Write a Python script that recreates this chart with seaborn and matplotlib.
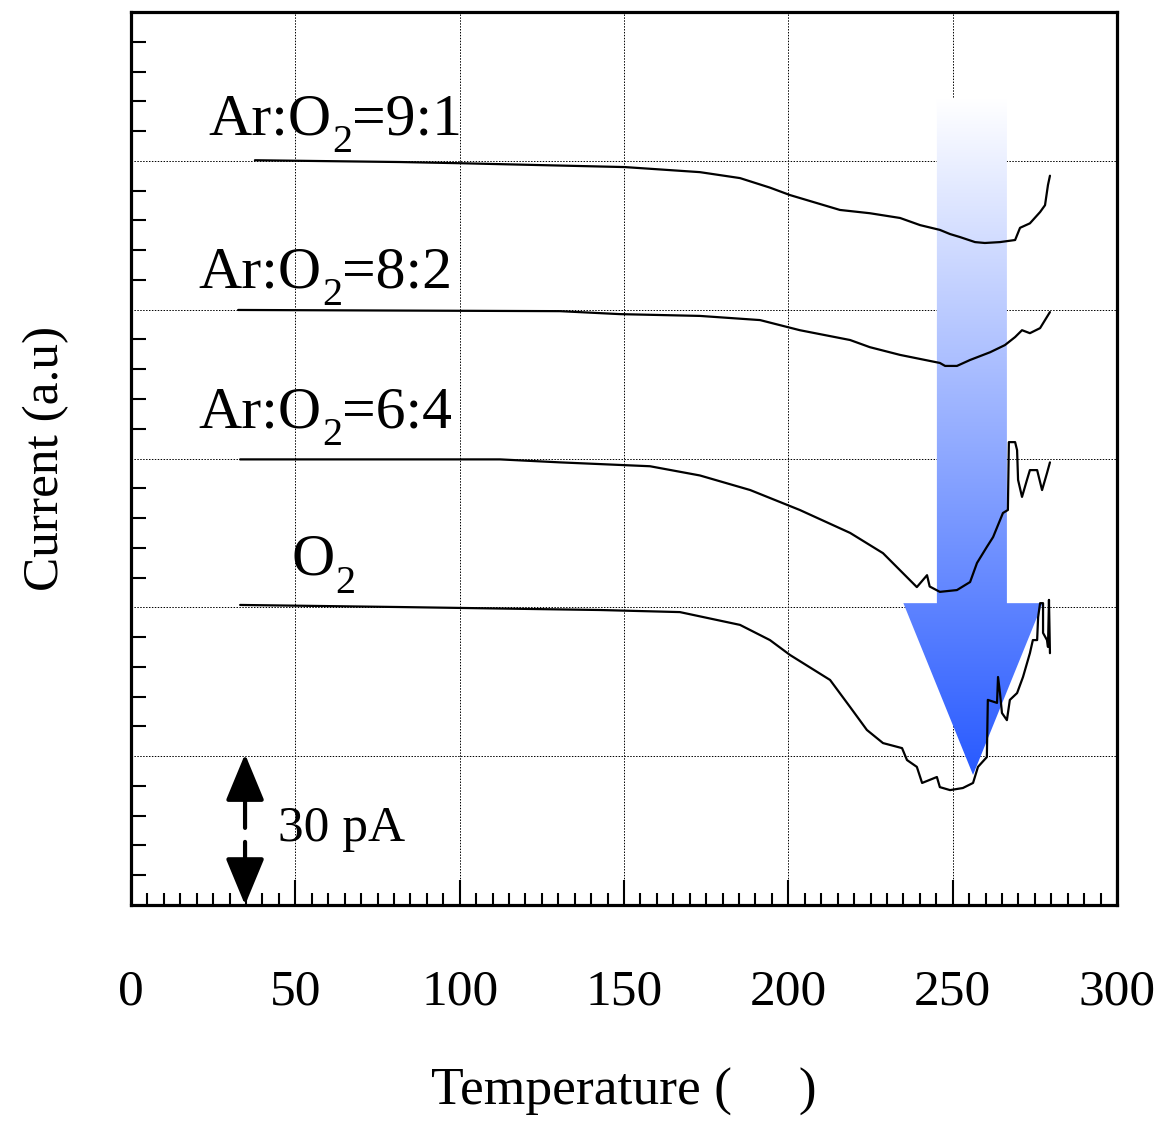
import numpy as np
import pandas as pd
import matplotlib
matplotlib.use("Agg")
import matplotlib.pyplot as plt
from matplotlib.patches import Polygon
from matplotlib.ticker import MultipleLocator
from matplotlib.transforms import IdentityTransform
import seaborn as sns

# ---------------- data ----------------
x_91 = [37.7, 81.8, 100.1, 150.3, 173.1, 185.3, 194.4, 200.5, 215.7, 224.8, 234.0,
        240.1, 246.1, 249.2, 252.2, 256.8, 259.8, 264.4, 269.0, 270.5, 273.5, 276.6,
        278.1, 279.0, 279.6]
y_91 = [25.02, 24.96, 24.92, 24.79, 24.62, 24.42, 24.10, 23.85, 23.35, 23.24, 23.08,
        22.84, 22.68, 22.54, 22.44, 22.27, 22.24, 22.27, 22.34, 22.75, 22.90, 23.28,
        23.51, 24.19, 24.50]

x_82 = [32.6, 130.5, 148.8, 173.1, 191.4, 203.5, 218.8, 224.8, 234.0, 246.1, 247.7,
        251.3, 255.3, 261.4, 265.9, 269.0, 271.1, 273.5, 276.6, 278.1, 279.6]
y_82 = [19.99, 19.95, 19.85, 19.79, 19.65, 19.31, 18.98, 18.74, 18.48, 18.21, 18.11,
        18.11, 18.31, 18.57, 18.81, 19.08, 19.31, 19.21, 19.38, 19.65, 19.92]

x_64 = [33.2, 112.3, 130.5, 157.9, 173.1, 188.4, 203.5, 218.8, 228.8, 239.1, 242.2,
        243.0, 246.1, 251.3, 255.3, 257.4, 260.4, 262.3, 265.3, 266.8, 267.1, 269.0,
        269.6, 269.9, 271.1, 272.6, 273.5, 275.7, 277.2, 278.7, 279.6]
y_64 = [14.97, 14.97, 14.87, 14.74, 14.43, 13.94, 13.27, 12.50, 11.82, 10.68, 11.08,
        10.70, 10.52, 10.58, 10.85, 11.49, 12.03, 12.36, 13.17, 13.27, 15.55, 15.55,
        15.28, 14.28, 13.71, 14.28, 14.61, 14.61, 13.94, 14.51, 14.87]

x_o2 = [33.2, 81.8, 142.7, 167.0, 185.3, 194.4, 200.5, 212.7, 218.8, 223.9, 228.8,
        234.6, 236.1, 239.1, 240.7, 245.2, 246.1, 249.2, 253.1, 256.2, 257.7, 260.4,
        260.7, 263.5, 263.8, 264.4, 265.0, 266.5, 267.4, 269.6, 271.4, 273.5, 274.4,
        275.7, 276.0, 276.6, 277.5, 277.5, 278.7, 279.0, 279.3, 279.6]
y_o2 = [10.08, 10.01, 9.91, 9.84, 9.41, 8.90, 8.40, 7.56, 6.65, 5.88, 5.44,
        5.27, 4.87, 4.64, 4.10, 4.30, 3.96, 3.86, 3.93, 4.10, 4.64, 4.97,
        6.89, 6.79, 7.66, 7.12, 6.45, 6.21, 6.89, 7.12, 7.66, 8.46, 8.90,
        8.90, 9.67, 10.14, 10.14, 9.14, 8.90, 8.67, 10.25, 8.46]

# labels: (text before subscript, subscript, text after)
series_labels = [("Ar:O", "2", "=9:1"), ("Ar:O", "2", "=8:2"),
                 ("Ar:O", "2", "=6:4"), ("O", "2", "")]
label_x = [23.4, 20.4, 20.4, 48.7]
label_y = [25.9, 20.75, 16.05, 11.1]

x_ticks = [0, 50, 100, 150, 200, 250, 300]
x_tick_labels = ["0", "50", "100", "150", "200", "250", "300"]
scale_text = "30 pA"

# ---------------- style ----------------
sns.set_style("ticks")
plt.rcParams["font.family"] = ["Liberation Serif", "DejaVu Serif"]
for k in ["text.color", "axes.labelcolor", "xtick.color", "ytick.color", "axes.edgecolor"]:
    plt.rcParams[k] = "black"

fig = plt.figure(figsize=(11.63, 11.22), dpi=100)
ax = fig.add_axes([131 / 1163, 1 - 905 / 1122, (1117 - 131) / 1163, (905 - 12) / 1122])

# ---------------- gradient arrow ----------------
shaft_l, shaft_r, head_l, head_r = 245.2, 266.5, 235.0, 277.4
tip_x, tip_y, base_y, top_y = 256.2, 4.37, 10.14, 27.1
grad = np.linspace(0, 1, 256)[:, None]
c_top = np.array([255, 255, 255]) / 255
c_bot = np.array([40, 90, 255]) / 255
img = c_top[None, None, :] * (1 - grad[..., None]) + c_bot[None, None, :] * grad[..., None]
img = np.repeat(img, 2, axis=1)
im = ax.imshow(img, extent=[head_l, head_r, tip_y, top_y], origin="upper",
               aspect="auto", zorder=1, interpolation="bilinear")
poly = Polygon([(shaft_l, top_y), (shaft_r, top_y), (shaft_r, base_y), (head_r, base_y),
                (tip_x, tip_y), (head_l, base_y), (shaft_l, base_y)],
               closed=True, facecolor="none", edgecolor="none", transform=ax.transData)
ax.add_patch(poly)
im.set_clip_path(poly)

# ---------------- curves ----------------
curves = [(x_91, y_91), (x_82, y_82), (x_64, y_64), (x_o2, y_o2)]
for xs, ys in curves:
    df = pd.DataFrame({"T": xs, "I": ys})
    sns.lineplot(data=df, x="T", y="I", ax=ax, color="black", lw=1.6,
                 estimator=None, sort=False, zorder=3)

# ---------------- 30 pA scale arrow ----------------
ap = dict(arrowstyle="-|>,head_length=2.9,head_width=1.2", lw=3, color="black",
          shrinkA=0, shrinkB=0, mutation_scale=10)
ax.annotate("", xy=(34.7, 5.07), xytext=(34.7, 2.59), arrowprops=ap, zorder=4)
ax.annotate("", xy=(34.7, 0.0), xytext=(34.7, 2.12), arrowprops=ap, zorder=4,
            annotation_clip=False)
ax.text(44.7, 2.55, scale_text, fontsize=37, ha="left", va="center", zorder=4)

# ---------------- axes ----------------
ax.set_xlim(0, 300)
ax.set_ylim(0, 30)
ax.set_xticks(x_ticks)
ax.set_xticklabels(x_tick_labels, fontsize=37)
ax.xaxis.set_minor_locator(MultipleLocator(5))
ax.yaxis.set_major_locator(MultipleLocator(5))
ax.yaxis.set_minor_locator(MultipleLocator(1))
ax.set_yticklabels([])
ax.tick_params(axis="x", which="major", direction="in", length=18, width=1.5, pad=46)
ax.tick_params(axis="x", which="minor", direction="in", length=8.5, width=1.5)
ax.tick_params(axis="y", which="both", direction="in", length=11, width=1.5)
ax.tick_params(axis="y", which="major", length=0)
for s in ax.spines.values():
    s.set_linewidth(2.3)
    s.set_color("black")

ax.grid(True, which="major", axis="both", color="black", linestyle=(0, (1.5, 1.5)), lw=0.7)
for gl in ax.get_xgridlines() + ax.get_ygridlines():
    gl.set_zorder(2)

ax.set_xlabel("Temperature (     )", fontsize=38.5, labelpad=38)
ax.set_ylabel("Current (a.u)", fontsize=37, labelpad=41)

# ---------------- series labels with subscripts ----------------
renderer = fig.canvas.get_renderer()
for (pre, sub, post), lx, ly in zip(series_labels, label_x, label_y):
    bx, by = ax.transData.transform((lx, ly))
    t1 = ax.text(bx, by, pre, fontsize=43, ha="left", va="baseline",
                 transform=IdentityTransform(), zorder=4)
    x1 = t1.get_window_extent(renderer=renderer).x1
    t2 = ax.text(x1 + 1, by - 18, sub, fontsize=29, ha="left", va="baseline",
                 transform=IdentityTransform(), zorder=4)
    x2 = t2.get_window_extent(renderer=renderer).x1
    if post:
        ax.text(x2, by, post, fontsize=43, ha="left", va="baseline",
                transform=IdentityTransform(), zorder=4)

fig.savefig("out.png", dpi=100)
